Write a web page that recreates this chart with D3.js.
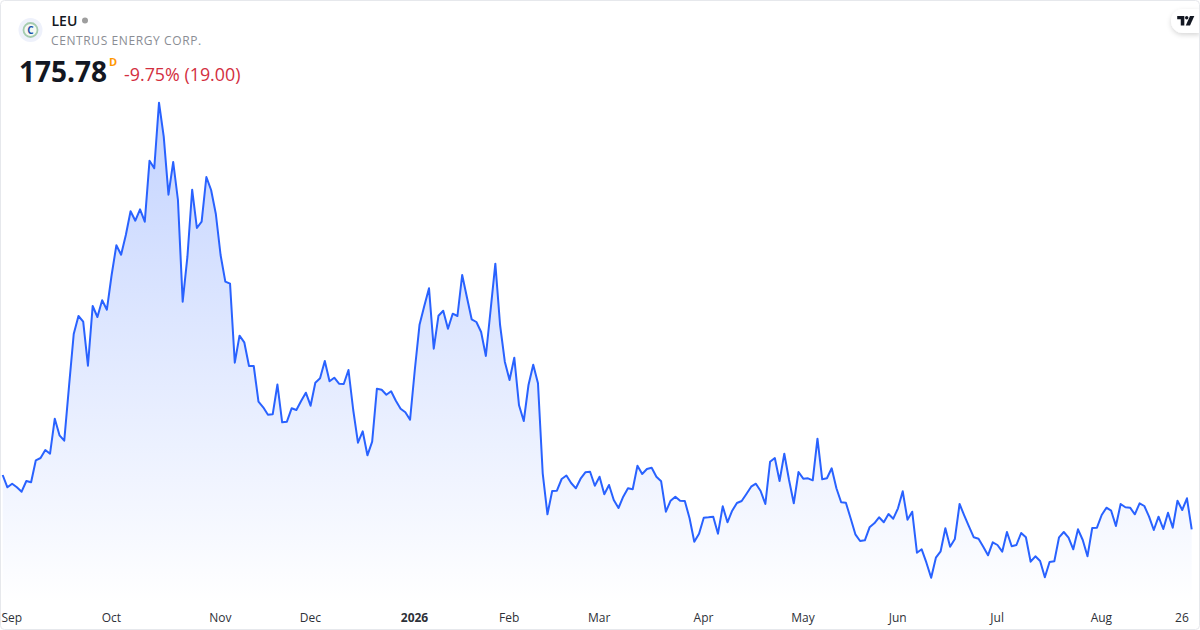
<!DOCTYPE html>
<html>
<head>
<meta charset="utf-8">
<script src="https://cdn.jsdelivr.net/npm/d3@7"></script>
<style>
  html, body { margin: 0; padding: 0; background: #fff; }
  svg { display: block; font-family: "Open Sans", sans-serif; }
</style>
</head>
<body>
<div id="chart"></div>
<script>
// daily closes, 28 Aug 2025 to 28 Aug 2026 (no y axis in the original)
const closes = [
  203, 196.85, 198.65, 196.85, 194.65, 200, 199.35, 210.35, 211.5, 215.5, 213.65, 231.15,
  222.85, 220.15, 247.15, 273.5, 282.5, 279.65, 257.65, 287.5, 282, 290.35, 285.65, 303,
  317.85, 313.15, 323, 334.85, 330.15, 335.85, 329.65, 360.15, 356.35, 389.15, 372.15, 343.15,
  359.5, 340.5, 289.65, 312.15, 345.65, 326.5, 329.65, 352, 345.5, 333.5, 313, 299.65,
  298.65, 259.15, 272.65, 269.35, 257.5, 257.5, 239.65, 236.85, 233.15, 233.35, 248.25, 229.35,
  229.65, 236.35, 235.5, 240, 244.15, 237.65, 249.15, 251.35, 260, 249.85, 251.65, 248.65,
  248.5, 255.5, 235.5, 219.15, 224.85, 212.85, 219.65, 246.15, 245.65, 243.15, 244.85, 240.15,
  236.15, 234.35, 230.65, 255.5, 278.15, 287.5, 296.35, 266.15, 282.65, 285.15, 276.15, 283.65,
  282.5, 303, 291.85, 280.85, 279.5, 274.5, 262.5, 285.5, 308.65, 278, 259.65, 250.5,
  261.65, 237.85, 230, 248, 258.15, 248.85, 203.85, 183.35, 195, 195.15, 201, 202.75,
  199, 196.35, 201.15, 204.35, 204.65, 197.65, 202.15, 193.35, 198, 190.5, 186.5, 192.15,
  196.35, 195.85, 207.65, 203.5, 206, 206.65, 202.15, 199.85, 184.65, 190.15, 192.15, 190.15,
  190, 181.35, 169.65, 173.65, 181.65, 181.85, 182.15, 173.65, 187.35, 179.35, 185.15, 189,
  190, 193.5, 197.15, 198.65, 195, 188.5, 209.65, 211.5, 200, 213.65, 200.5, 188.85,
  204.5, 201.15, 201.35, 200.35, 221.15, 200.85, 201.35, 206.35, 196.35, 189.35, 189.15, 181.35,
  173.35, 170, 170.35, 176.85, 178.85, 181.85, 179.35, 183.5, 181.15, 186.35, 194.85, 180.65,
  184.65, 164.15, 165.85, 159.15, 151.65, 161.65, 164.85, 176.35, 167.15, 171, 188.5, 182.65,
  177.15, 171.85, 171.15, 167.15, 162.85, 169.35, 168, 164.65, 174.5, 167.35, 168, 174,
  171.85, 159.65, 162.35, 160, 151.85, 159.5, 159.85, 171.85, 174.5, 171.65, 165.85, 175.85,
  170.5, 162.35, 176.5, 176.65, 183, 186.65, 185.15, 177.5, 188.5, 186.85, 186.65, 183.35,
  188.85, 187.5, 182.15, 175.5, 182.15, 176, 184.15, 176.65, 190.15, 185.5, 191.35, 175.78
];

// trading day index of each time label
const tickDays = [2, 23, 46, 65, 87, 107, 126, 148, 169, 189, 210, 232, 249];
const tickLabels = ["Sep", "Oct", "Nov", "Dec", "2026", "Feb", "Mar", "Apr", "May", "Jun", "Jul", "Aug", "26"];

const width = 1200, height = 630;
const blue = "#2962ff";

const svg = d3.select("#chart").append("svg")
  .attr("width", width)
  .attr("height", height);

const defs = svg.append("defs");

const grad = defs.append("linearGradient")
  .attr("id", "areaFill")
  .attr("gradientUnits", "userSpaceOnUse")
  .attr("x1", 0).attr("x2", 0)
  .attr("y1", 102).attr("y2", 605);
grad.append("stop").attr("offset", 0).attr("stop-color", blue).attr("stop-opacity", 0.28);
grad.append("stop").attr("offset", 1).attr("stop-color", blue).attr("stop-opacity", 0);

const shadow = defs.append("filter")
  .attr("id", "logoShadow")
  .attr("x", "-30%").attr("y", "-30%")
  .attr("width", "160%").attr("height", "170%");
shadow.append("feDropShadow")
  .attr("dx", 0).attr("dy", 2).attr("stdDeviation", 2.5)
  .attr("flood-color", "#000").attr("flood-opacity", 0.16);

// scales
const x = d3.scaleLinear().domain([0, closes.length - 1]).range([2.67, 1191.7]);
const y = d3.scaleLinear().domain([140.5, 400.5]).range([600, 80]);

const area = d3.area()
  .x((d, i) => x(i))
  .y0(y(140.5))
  .y1(d => y(d));

const line = d3.line()
  .x((d, i) => x(i))
  .y(d => y(d));

svg.append("path")
  .datum(closes)
  .attr("d", area)
  .attr("fill", "url(#areaFill)");

svg.append("path")
  .datum(closes)
  .attr("d", line)
  .attr("fill", "none")
  .attr("stroke", blue)
  .attr("stroke-width", 2)
  .attr("stroke-linejoin", "round");

// time axis, labels only
const axis = svg.append("g")
  .attr("transform", "translate(-0.8,613)")
  .call(d3.axisBottom(x)
    .tickValues(tickDays)
    .tickFormat((d, i) => tickLabels[i])
    .tickSize(0)
    .tickPadding(0));
axis.select(".domain").remove();
axis.selectAll("text")
  .attr("font-family", '"Open Sans", sans-serif')
  .attr("font-size", 12)
  .attr("fill", "#2e3138")
  .attr("font-weight", d => d === 87 ? 700 : 400);

// header
const logo = svg.append("g").attr("transform", "translate(30.5,30)");
logo.append("circle").attr("r", 12).attr("fill", "#eef1fb");
logo.append("circle").attr("r", 7).attr("fill", "#f4f8f4")
  .attr("stroke", "#a5cbae").attr("stroke-width", 1.8);
logo.append("text").text("C")
  .attr("text-anchor", "middle").attr("y", 3.7)
  .attr("font-size", 10).attr("font-weight", 700).attr("fill", "#1a4fa8");

svg.append("text").text("LEU")
  .attr("x", 51.5).attr("y", 26)
  .attr("font-size", 14).attr("font-weight", 600).attr("fill", "#131722");
svg.append("circle").attr("cx", 85).attr("cy", 20.5).attr("r", 3).attr("fill", "#9e9e9e");

svg.append("text").text("CENTRUS ENERGY CORP.")
  .attr("x", 51).attr("y", 45)
  .attr("font-size", 12).attr("letter-spacing", 0.6).attr("fill", "#8a8d94");

svg.append("text").text("175.78")
  .attr("x", 19).attr("y", 81.5)
  .attr("font-size", 28).attr("font-weight", 700).attr("fill", "#131722");
svg.append("text").text("D")
  .attr("x", 109).attr("y", 66)
  .attr("font-size", 11).attr("font-weight", 700).attr("fill", "#ff9800");
svg.append("text").text("-9.75% (19.00)")
  .attr("x", 124).attr("y", 81)
  .attr("font-size", 17.85).attr("fill", "#d32f3f");

// TradingView badge
svg.append("path")
  .attr("d", "M1200 9H1183a12 12 0 0 0 0 24H1200Z")
  .attr("fill", "#fff")
  .attr("filter", "url(#logoShadow)");
const tv = svg.append("g")
  .attr("transform", "translate(1177.2,16) scale(0.475)")
  .attr("fill", "#131722");
tv.append("path").attr("d", "M0 0H15V20H7.5V7H0Z");
tv.append("circle").attr("cx", 20).attr("cy", 3.6).attr("r", 3.6);
tv.append("path").attr("d", "M27 0H36L27 20H18Z");

// card border
svg.append("rect")
  .attr("x", 0.5).attr("y", 0.5)
  .attr("width", width - 1).attr("height", height - 1)
  .attr("rx", 4)
  .attr("fill", "none")
  .attr("stroke", "#e6e8ec");
</script>
</body>
</html>
